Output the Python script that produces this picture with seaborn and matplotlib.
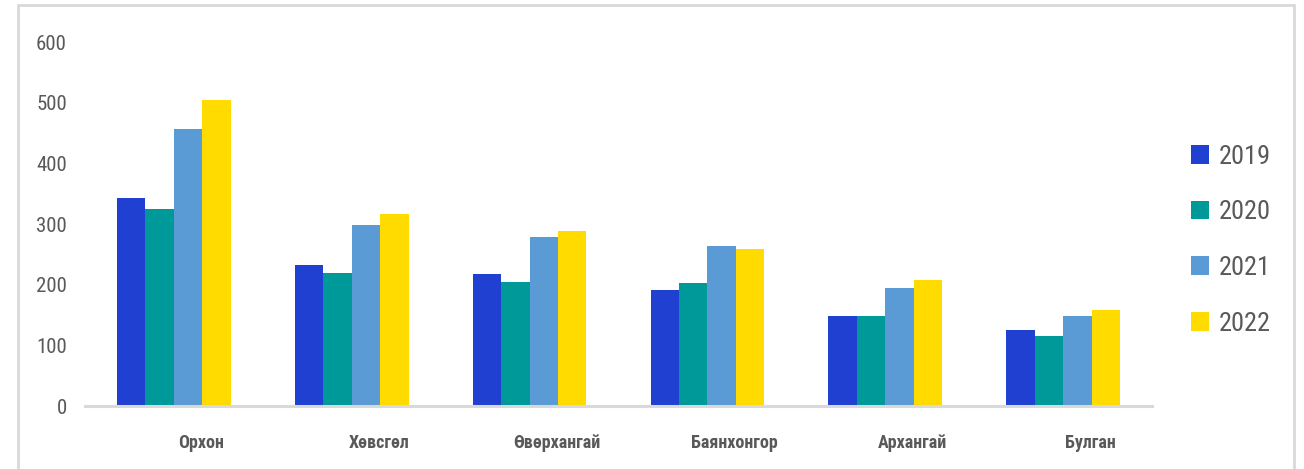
import matplotlib.pyplot as plt
import matplotlib.transforms as mtransforms
from matplotlib.patches import Rectangle
from matplotlib import font_manager
import seaborn as sns
import pandas as pd

# Data
provinces = ["Орхон", "Хөвсгөл", "Өвөрхангай", "Баянхонгор", "Архангай", "Булган"]
years = ["2019", "2020", "2021", "2022"]
v2019 = [343, 232, 218, 192, 149, 126]
v2020 = [324, 219, 205, 202, 149, 115]
v2021 = [456, 298, 279, 263, 194, 149]
v2022 = [504, 316, 289, 258, 208, 158]
colors = ["#1f40d0", "#009999", "#5b9bd5", "#ffdb00"]

rows = []
for year, vals in zip(years, [v2019, v2020, v2021, v2022]):
    for p, v in zip(provinces, vals):
        rows.append({"province": p, "year": year, "value": v})
df = pd.DataFrame(rows)

sns.set_style("white")
installed = {f.name for f in font_manager.fontManager.ttflist}
fams = [f for f in ["Roboto Condensed", "Liberation Sans Narrow", "Liberation Sans"] if f in installed]
plt.rcParams["font.family"] = fams + ["DejaVu Sans"]

W, H = 1304, 469
fig = plt.figure(figsize=(W / 100, H / 100), dpi=100)
ax = fig.add_axes([85 / W, (H - 406) / H, (1152 - 85) / W, (406 - 42) / H])

sns.barplot(data=df, x="province", y="value", hue="year", order=provinces,
            hue_order=years, palette=colors, width=0.64, gap=0, linewidth=0,
            saturation=1, ax=ax)

ax.set_ylim(0, 600)
ax.set_xlim(-0.5, 5.5)
ax.set_yticks(range(0, 601, 100))
ax.set_xlabel("")
ax.set_ylabel("")
for s in ["top", "left", "right"]:
    ax.spines[s].set_visible(False)
ax.spines["bottom"].set_color("#d9d9d9")
ax.spines["bottom"].set_linewidth(2.2)
ax.tick_params(axis="both", length=0)
ax.tick_params(axis="y", labelsize=15, labelcolor="#595959", pad=13)
ax.tick_params(axis="x", labelsize=13, labelcolor="#595959", pad=20)
offset = mtransforms.ScaledTranslation(27 / 100, 0, fig.dpi_scale_trans)
for lab in ax.get_xticklabels():
    lab.set_fontweight("bold")
    lab.set_transform(lab.get_transform() + offset)

ax.legend(loc="upper left", bbox_to_anchor=(1180 / W, (H - 134) / H),
          bbox_transform=fig.transFigure, frameon=False, fontsize=19,
          handlelength=0.7, handleheight=0.7, handletextpad=0.35,
          labelspacing=1.2, labelcolor="#595959", borderaxespad=0)

# outer frame of the chart area
fig.patches.append(Rectangle((18 / W, -0.05), (1294 - 18) / W, 1.05 - 5 / H,
                             transform=fig.transFigure, fill=False,
                             edgecolor="#d9d9d9", linewidth=2))

fig.savefig("out.png", dpi=100)
